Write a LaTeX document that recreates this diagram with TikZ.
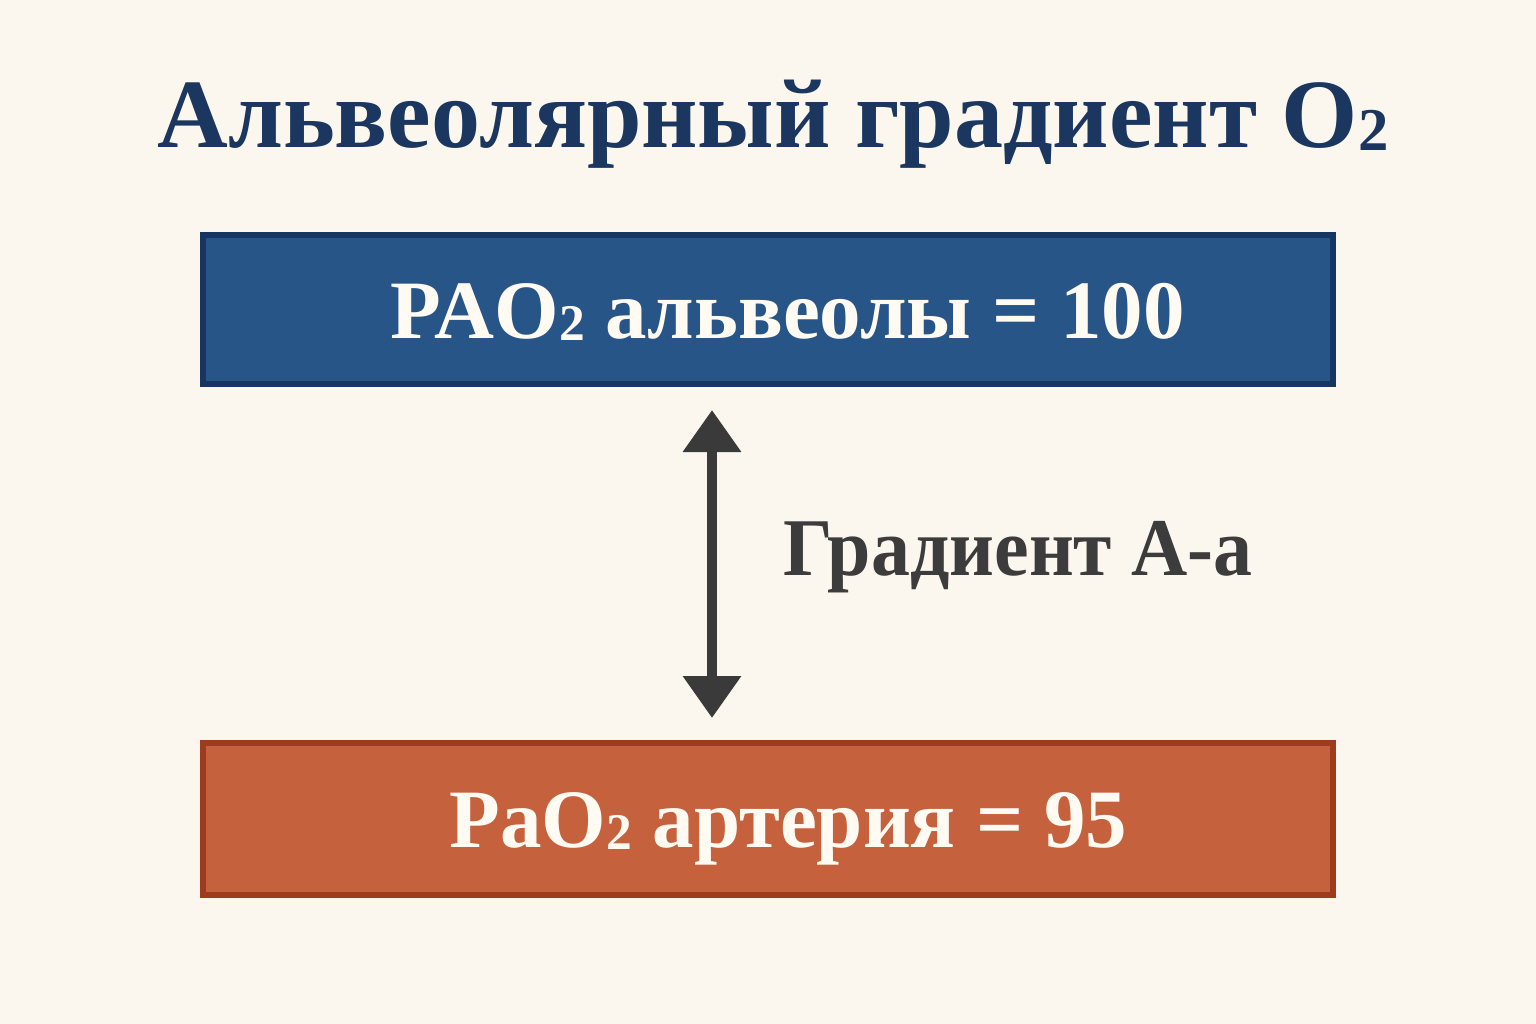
\documentclass[tikz,border=0pt]{standalone}
\usepackage{fontspec}
\setmainfont{Liberation Serif}
\usetikzlibrary{arrows.meta}
\definecolor{bgc}{HTML}{FCF7EE}
\definecolor{titlec}{HTML}{1B365F}
\definecolor{bluefill}{HTML}{285587}
\definecolor{blueedge}{HTML}{163561}
\definecolor{redfill}{HTML}{C5613D}
\definecolor{rededge}{HTML}{9C3B1E}
\definecolor{arrowc}{HTML}{3A3A3A}
\definecolor{labelc}{HTML}{3C3C3C}
\definecolor{whitec}{HTML}{FFFBF2}
\newcommand{\subtwo}{\raisebox{-0.03em}{\scalebox{0.62}{2}}}
\begin{document}
\begin{tikzpicture}[x=1pt,y=-1pt,
  boxstyle/.style={rectangle, line width=6pt, minimum width=1130pt, inner sep=0pt},
  titletext/.style={font=\fontsize{98}{108}\selectfont\bfseries, text=titlec, inner sep=0pt, anchor=base},
  boxtext/.style={font=\fontsize{83}{93}\selectfont\bfseries, text=whitec, inner sep=0pt, anchor=base},
  labeltext/.style={font=\fontsize{82}{92}\selectfont\bfseries, text=labelc, inner sep=0pt, anchor=base west},
  gradarrow/.style={{Triangle[width=56pt,length=42pt]}-{Triangle[width=56pt,length=42pt]}, line width=10pt, draw=arrowc}
]
\fill[bgc] (0,0) rectangle (1536,1024);
\useasboundingbox (0,0) rectangle (1536,1024);

\node[titletext] (title) at (773,148) {Альвеолярный градиент O\subtwo};

\node[boxstyle, fill=bluefill, draw=blueedge, minimum height=149pt] (alv) at (768,309.5) {};
\node[boxtext] (alvtext) at (787.5,338) {PAO\subtwo{} альвеолы = 100};

\node[boxstyle, fill=redfill, draw=rededge, minimum height=152pt] (art) at (768,819) {};
\node[boxtext] (arttext) at (788.5,847) {PaO\subtwo{} артерия = 95};

\coordinate (atop) at (712,410);
\coordinate (abot) at (712,718);
\draw[gradarrow] (atop) -- (abot);

\node[labeltext] (grad) at (783,575) {\scalebox{0.95}[1]{Градиент А-а}};
\end{tikzpicture}
\end{document}
